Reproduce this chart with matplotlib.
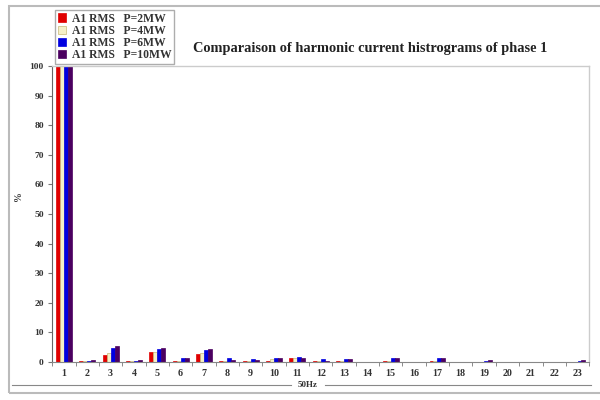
import matplotlib
matplotlib.use("Agg")
import matplotlib.pyplot as plt
from matplotlib.lines import Line2D
from matplotlib.patches import Rectangle
import numpy as np

harmonics = list(range(1, 24))
series_labels = ["A1 RMS   P=2MW", "A1 RMS   P=4MW", "A1 RMS   P=6MW", "A1 RMS   P=10MW"]
colors = ["#e00000", "#f5f0c8", "#0000e0", "#4b0060"]
edges = ["#e00000", "#c8b878", "#0000e0", "#4b0060"]

p2mw = [100, 0.3, 2.5, 0.2, 3.4, 0.5, 2.8, 0.3, 0.3, 0.5, 1.2, 0.3, 0.5, 0, 0.3, 0, 0.3, 0, 0, 0, 0, 0, 0]
p4mw = [100, 0.2, 3.0, 0.2, 3.5, 0.5, 3.0, 0.3, 0.3, 1.0, 1.5, 0.5, 0.5, 0, 0.5, 0, 0.5, 0, 0, 0, 0, 0, 0]
p6mw = [100, 0.5, 4.8, 0.5, 4.5, 1.2, 4.0, 1.3, 1.0, 1.5, 1.8, 1.0, 1.0, 0, 1.5, 0, 1.2, 0, 0.5, 0, 0, 0, 0.5]
p10mw = [100, 0.6, 5.5, 0.6, 4.8, 1.5, 4.5, 0.8, 0.8, 1.5, 1.5, 0.5, 1.0, 0, 1.2, 0, 1.2, 0, 0.7, 0, 0, 0, 0.6]
yticks = list(range(0, 101, 10))

serif = ["Liberation Serif", "DejaVu Serif"]

fig = plt.figure(figsize=(6, 4), dpi=100)
ax = fig.add_axes([0.087, 0.095, 0.895, 0.74])

x = np.arange(len(harmonics))
w = 0.17
for i, (vals, c, ec, lab) in enumerate(zip([p2mw, p4mw, p6mw, p10mw], colors, edges, series_labels)):
    ax.bar(x + (i - 1.5) * w, vals, width=w, color=c, edgecolor=ec, linewidth=0.5, label=lab)

ax.set_xlim(-0.5, len(harmonics) - 0.5)
ax.set_ylim(0, 100)
ax.set_yticks(yticks)
ax.set_yticklabels([str(t) for t in yticks], fontfamily=serif, fontweight="bold",
                   fontsize=6.8, color="#333333")
ax.set_xticks(x)
ax.set_xticklabels([str(h) for h in harmonics], fontfamily=serif, fontweight="bold",
                   fontsize=7.2, color="#333333")
ax.tick_params(axis="x", length=0, pad=5)
ax.set_xticks(np.arange(-0.5, len(harmonics), 1), minor=True)
ax.tick_params(axis="x", which="minor", length=3, color="#777777")
ax.tick_params(axis="y", length=3, color="#777777", pad=3)

for s in ["top", "right"]:
    ax.spines[s].set_color("#cccccc")
    ax.spines[s].set_linewidth(1.0)
ax.spines["left"].set_color("#666666")
ax.spines["bottom"].set_color("#888888")

fig.text(0.03, 0.51, "%", fontfamily=serif, fontweight="bold", fontsize=7,
         rotation=90, ha="center", va="center", color="#333333")

fig.text(0.322, 0.878, "Comparaison of harmonic current histrograms of phase 1",
         fontfamily=serif, fontweight="bold", fontsize=10.4, ha="left", va="center",
         color="#222222")

leg = ax.legend(loc="lower left", bbox_to_anchor=(0.006, 1.008),
                prop={"family": serif, "weight": "bold", "size": 8.4},
                frameon=True, fancybox=False, edgecolor="#999999", handlelength=0.7,
                handleheight=0.7, handletextpad=0.5, labelspacing=0.02, borderpad=0.2,
                borderaxespad=0.0)
leg.get_frame().set_linewidth(1.0)
for t in leg.get_texts():
    t.set_color("#333333")

# x-axis caption with rules on both sides
fig.text(0.513, 0.037, "50Hz", fontfamily=serif, fontweight="bold", fontsize=6.5,
         ha="center", va="center", color="#333333")
fig.add_artist(Line2D([0.02, 0.485], [0.037, 0.037], color="#888888", lw=0.8))
fig.add_artist(Line2D([0.542, 0.985], [0.037, 0.037], color="#888888", lw=0.8))

# outer frame
fig.add_artist(Rectangle((0.015, 0.018), 1.0, 0.968, fill=False, edgecolor="#bbbbbb", lw=1.5,
                         transform=fig.transFigure))

fig.savefig("out.png", dpi=100)
